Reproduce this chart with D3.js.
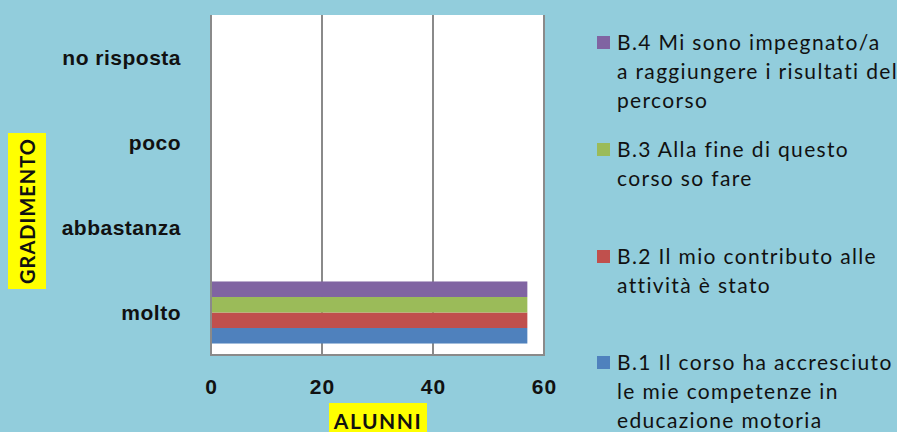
<!DOCTYPE html>
<html>
<head>
<meta charset="utf-8">
<script src="https://cdn.jsdelivr.net/npm/d3@7"></script>
<style>
  body { margin: 0; background: #92cddc; }
  svg { display: block; font-family: Lato, "Open Sans", sans-serif; }
</style>
</head>
<body>
<div class="container"></div>
<script>
const categories = ['molto', 'abbastanza', 'poco', 'no risposta'];
const seriesNames = [
  ['B.1 Il corso ha accresciuto', 'le mie competenze in', 'educazione motoria'],
  ['B.2 Il mio contributo alle', 'attività è stato'],
  ['B.3 Alla fine di questo', 'corso so fare'],
  ['B.4 Mi sono impegnato/a', 'a raggiungere i risultati del', 'percorso']
];
const b1 = [57, 0, 0, 0];
const b2 = [57, 0, 0, 0];
const b3 = [57, 0, 0, 0];
const b4 = [57, 0, 0, 0];
const xTicks = [0, 20, 40, 60];
const colors = ['#4f81bd', '#c0504d', '#9bbb59', '#8064a2'];

const w = 897, h = 432;
const pl = 211, pr = 544, pt = 15, pb = 355;
const series = [b1, b2, b3, b4];

const svg = d3.select('.container')
  .append('svg')
  .attr('width', w)
  .attr('height', h);

svg.append('rect').attr('width', w).attr('height', h).attr('fill', '#92cddc');

const xScale = d3.scaleLinear().domain([0, 60]).range([pl, pr]);
const yScale = d3.scaleBand().domain(categories).range([pb, pt]).paddingInner(0.27).paddingOuter(0.135);
const sScale = d3.scaleBand().domain(d3.range(series.length)).range([yScale.bandwidth(), 0]);

svg.append('rect')
  .attr('x', pl).attr('y', pt)
  .attr('width', pr - pl).attr('height', pb - pt)
  .attr('fill', '#fff');

// gridlines
svg.append('g')
  .selectAll('line')
  .data(xTicks.slice(1, -1))
  .enter()
  .append('line')
  .attr('x1', d => xScale(d)).attr('x2', d => xScale(d))
  .attr('y1', pt).attr('y2', pb)
  .attr('stroke', '#8a8a8a').attr('stroke-width', 2);

// bars
series.forEach((s, si) => {
  svg.append('g')
    .selectAll('rect')
    .data(s)
    .enter()
    .append('rect')
    .attr('x', pl)
    .attr('y', (d, i) => yScale(categories[i]) + sScale(si))
    .attr('width', d => xScale(d) - pl)
    .attr('height', sScale.bandwidth())
    .attr('fill', colors[si]);
});

// plot frame
svg.append('path')
  .attr('d', `M${pl},${pt}V${pb}H${pr}V${pt}`)
  .attr('fill', 'none')
  .attr('stroke', '#8a8a8a')
  .attr('stroke-width', 2);

// x axis
const xAxis = d3.axisBottom(xScale).tickValues(xTicks).tickSize(0).tickPadding(0);
const gx = svg.append('g')
  .attr('transform', `translate(0, 394)`)
  .call(xAxis);
gx.select('.domain').remove();
gx.selectAll('text')
  .attr('dy', 0)
  .attr('fill', '#111')
  .style('font-size', '21px')
  .style('font-weight', 'bold')
  .style('letter-spacing', '1px');

// y axis
const yAxis = d3.axisLeft(yScale).tickSize(0).tickPadding(0);
const gy = svg.append('g')
  .attr('transform', `translate(181, 0)`)
  .call(yAxis);
gy.select('.domain').remove();
gy.selectAll('text')
  .attr('dy', '0.35em')
  .attr('fill', '#111')
  .style('font-size', '21px')
  .style('font-weight', 'bold')
  .style('letter-spacing', '0.5px');

// axis titles
svg.append('rect').attr('x', 329).attr('y', 403).attr('width', 98).attr('height', 32).attr('fill', '#ffff00');
svg.append('text')
  .attr('x', 378).attr('y', 429)
  .attr('text-anchor', 'middle')
  .style('font-size', '21px').style('font-weight', 'bold')
  .style('letter-spacing', '1.5px')
  .attr('fill', '#111')
  .text('ALUNNI');

svg.append('rect').attr('x', 8).attr('y', 133).attr('width', 38).attr('height', 156).attr('fill', '#ffff00');
svg.append('text')
  .attr('transform', 'translate(35, 211) rotate(-90)')
  .attr('text-anchor', 'middle')
  .style('font-size', '20px').style('font-weight', 'bold')
  .style('letter-spacing', '1px')
  .attr('fill', '#111')
  .text('GRADIMENTO');

// legend
const legendY = [363, 257, 150, 43];
const legend = svg.append('g');
series.forEach((s, si) => {
  legend.append('rect')
    .attr('x', 597).attr('y', legendY[si] - 7)
    .attr('width', 13).attr('height', 13)
    .attr('fill', colors[si]);
  legend.append('text')
    .attr('x', 617).attr('y', legendY[si])
    .attr('fill', '#111')
    .style('font-size', '21px')
    .style('letter-spacing', '1.35px')
    .selectAll('tspan')
    .data(seriesNames[si])
    .enter()
    .append('tspan')
    .attr('x', 617)
    .attr('y', (d, i) => legendY[si] + i * 29)
    .attr('dy', '0.35em')
    .text(d => d);
});
</script>
</body>
</html>
